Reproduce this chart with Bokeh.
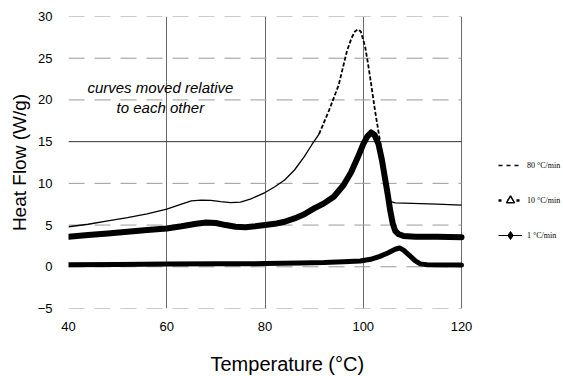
import numpy as np
from bokeh.plotting import figure
from bokeh.models import Range1d, FixedTicker, Legend, LegendItem, Title, Label
from bokeh.embed import file_html
from bokeh.resources import INLINE

# ---- data ----
temp_80 = [40, 44, 48, 52, 56, 60, 63, 65, 67, 69, 71, 73, 75, 77, 80, 82, 84, 86, 88,
           89.5, 91, 93, 95, 96.7, 97.6, 98.3, 98.9, 99.5, 100.0, 100.4, 100.9, 101.4,
           102.4, 103.4, 104.2, 105.0, 105.6, 106.5, 110, 115, 120]
flow_80 = [4.8, 5.1, 5.5, 5.9, 6.35, 6.9, 7.5, 7.9, 8.0, 7.95, 7.8, 7.7, 7.75, 8.1, 8.9,
           9.6, 10.4, 11.6, 13.2, 14.6, 15.9, 18.7, 21.8, 25.9, 27.4, 28.2, 28.45, 28.2,
           27.2, 26.3, 24.6, 22.7, 18.7, 15.1, 12.0, 9.2, 7.8, 7.65, 7.6, 7.5, 7.4]

temp_10 = [40, 44, 48, 52, 56, 60, 63, 66, 68, 70, 72, 74, 76, 78, 80, 82, 84, 86, 88,
           90, 92, 94, 96, 97.5, 98.8, 100.0, 100.8, 101.6, 102.3, 103.1, 103.8, 104.4,
           105.0, 105.5, 106.0, 106.5, 107.2, 108.2, 110.6, 115, 120]
flow_10 = [3.6, 3.8, 4.0, 4.2, 4.4, 4.6, 4.85, 5.15, 5.3, 5.25, 5.0, 4.8, 4.75, 4.85, 5.0,
           5.15, 5.4, 5.8, 6.3, 7.0, 7.6, 8.4, 9.8, 11.3, 13.0, 14.7, 15.6, 16.1, 15.8,
           14.7, 12.8, 10.7, 8.6, 6.7, 5.2, 4.3, 3.9, 3.7, 3.6, 3.6, 3.55]

temp_1 = [40, 50, 60, 70, 80, 87, 92, 96, 99.4, 101.5, 103.4, 105, 106.5, 107.4, 108.2,
          109.5, 110.6, 111.6, 113, 120]
flow_1 = [0.25, 0.28, 0.32, 0.35, 0.38, 0.45, 0.5, 0.6, 0.7, 0.9, 1.25, 1.65, 2.1, 2.25,
          2.0, 1.3, 0.7, 0.35, 0.25, 0.2]

x_ticks = [40, 60, 80, 100, 120]
y_ticks = [-5, 0, 5, 10, 15, 20, 25, 30]
series_labels = ["80 °C/min", "10 °C/min", "1 °C/min"]
x_label = "Temperature (°C)"
y_label = "Heat Flow (W/g)"
note_text = "curves moved relative\nto each other"
note_x, note_y = 58.7, 20.3
solid_line_y = 15
dash_from, dash_to = 91, 105.6

# layout constants: the frame extends to the right to hold the legend
X_MIN, X_MAX, X_VIEW_END = 40, 120, 140.76
FONT = "Liberation Sans"

p = figure(width=563, height=376, x_range=Range1d(X_MIN, X_VIEW_END), y_range=Range1d(-5, 30),
           output_backend="svg", toolbar_location=None, title=None,
           min_border_left=68, min_border_right=0, min_border_top=16, min_border_bottom=68)
p.outline_line_color = None
p.background_fill_color = "white"
p.border_fill_color = "white"

# axes
for ax in (p.xaxis, p.yaxis):
    ax.axis_line_color = None
    ax.major_tick_line_color = None
    ax.minor_tick_line_color = None
    ax.major_label_text_font = FONT
    ax.major_label_text_font_size = "13px"
    ax.major_label_text_color = "black"
p.xaxis.ticker = FixedTicker(ticks=x_ticks)
p.yaxis.ticker = FixedTicker(ticks=y_ticks)
p.xaxis.major_label_standoff = 7
p.yaxis.major_label_standoff = 10
p.yaxis.axis_label = y_label
p.yaxis.axis_label_text_font = FONT
p.yaxis.axis_label_text_font_size = "19px"
p.yaxis.axis_label_text_font_style = "normal"
p.yaxis.axis_label_text_color = "black"
p.yaxis.axis_label_standoff = 5

# grid: vertical from the grid, horizontal drawn only over the plotted x span
p.xgrid.ticker = FixedTicker(ticks=x_ticks)
p.xgrid.grid_line_color = "#6a6a6a"
p.xgrid.grid_line_width = 1
p.ygrid.visible = False
yt = np.array(y_ticks, dtype=float)
dashed_y = yt[yt != solid_line_y]
p.segment(x0=np.full(len(dashed_y), X_MIN), x1=np.full(len(dashed_y), X_MAX), y0=dashed_y, y1=dashed_y,
          line_color="#9a9a9a", line_width=1, line_dash="16 10")
p.segment(x0=[X_MIN], x1=[X_MAX], y0=[solid_line_y], y1=[solid_line_y], line_color="#333333", line_width=1)

# 80 °C/min curve (thin; dashed on the steep part)
t80 = np.array(temp_80)
f80 = np.array(flow_80)
m_left = t80 <= dash_from
m_dash = (t80 >= dash_from) & (t80 <= dash_to)
m_right = t80 >= dash_to
p.line(t80[m_left], f80[m_left], line_color="black", line_width=1.3)
p.line(t80[m_dash], f80[m_dash], line_color="black", line_width=1.8, line_dash="4 2")
p.line(t80[m_right], f80[m_right], line_color="black", line_width=1.3)

# 10 °C/min curve (thick band)
p.line(temp_10, flow_10, line_color="black", line_width=6, line_join="round", line_cap="round")

# 1 °C/min curve
p.line(temp_1, flow_1, line_color="black", line_width=5, line_join="round", line_cap="round")

# note
p.add_layout(Label(x=note_x, y=note_y, text=note_text, text_font=FONT, text_font_size="15px",
                   text_font_style="italic", text_align="center", text_baseline="middle",
                   text_color="black", text_line_height=1.2))

# legend: legend-only renderers hold a single NaN point (nothing drawn on the plot)
nan_x, nan_y = [np.nan], [np.nan]
lg80 = p.line(x=nan_x, y=nan_y, line_color="black", line_width=1.5, line_dash="4 4")
lg10l = p.line(x=nan_x, y=nan_y, line_color="black", line_width=2.5, line_dash="3 6")
lg10m = p.scatter(x=nan_x, y=nan_y, marker="triangle", size=7, line_color="black",
                  fill_color="white", line_width=1.5)
lg1l = p.line(x=nan_x, y=nan_y, line_color="black", line_width=1)
lg1m = p.scatter(x=nan_x, y=nan_y, marker="diamond", size=7, line_color="black", fill_color="black")

legend = Legend(items=[LegendItem(label=series_labels[0], renderers=[lg80]),
                       LegendItem(label=series_labels[1], renderers=[lg10l, lg10m]),
                       LegendItem(label=series_labels[2], renderers=[lg1l, lg1m])],
                location=(430, 63), glyph_width=24, glyph_height=20, label_height=20,
                spacing=15, padding=0, margin=0, border_line_color=None,
                background_fill_alpha=0, label_text_font="Liberation Serif",
                label_text_font_size="8px", label_standoff=5, label_text_color="black")
p.add_layout(legend)

# blank spacer between tick labels and the x title
p.add_layout(Title(text=" ", text_font_size="1px", standoff=14), "below")

# x axis title (placed as in the reference)
p.add_layout(Title(text=x_label, align="left", offset=142, standoff=0, text_font=FONT,
                   text_font_size="20px", text_font_style="normal", text_color="black"), "below")

open("out.html", "w").write(file_html(p, INLINE))
